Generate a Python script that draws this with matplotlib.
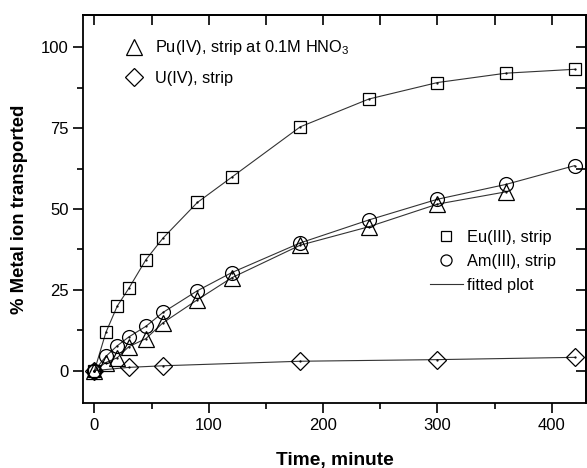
import matplotlib
matplotlib.use("Agg")
import matplotlib.pyplot as plt
from matplotlib.lines import Line2D
from matplotlib.ticker import MultipleLocator

plt.rcParams['font.family'] = ['Liberation Sans', 'DejaVu Sans']
plt.rcParams['mathtext.fontset'] = 'custom'
plt.rcParams['mathtext.rm'] = 'Liberation Sans'
plt.rcParams['mathtext.it'] = 'Liberation Sans'

# data
eu_t = [0, 10, 20, 30, 45, 60, 90, 120, 180, 240, 300, 360, 420]
eu_y = [0, 11.8, 20, 25.4, 34.3, 41, 52, 59.8, 75.4, 84, 89.1, 92, 93.2]

am_t = [0, 10, 20, 30, 45, 60, 90, 120, 180, 240, 300, 360, 420]
am_y = [0, 4.4, 7.7, 10.4, 13.7, 18, 24.7, 30.3, 39.5, 46.6, 53, 57.6, 63.4]

pu_t = [0, 10, 20, 30, 45, 60, 90, 120, 180, 240, 300, 360]
pu_y = [0, 2.5, 4, 7.4, 9.9, 14.8, 21.9, 28.7, 38.8, 44.5, 51.5, 55.3]

u_t = [0, 30, 60, 180, 300, 420]
u_y = [0, 1, 1.5, 2.9, 3.4, 4.1]

fig = plt.figure(figsize=(5.87, 4.68), dpi=100)
ax = fig.add_axes([0.1414, 0.139, 0.857, 0.829])

series = [
    (pu_t, pu_y, '^', 11),
    (u_t, u_y, 'D', 9),
    (eu_t, eu_y, 's', 9),
    (am_t, am_y, 'o', 10),
]
for t, y, m, ms in series:
    ax.plot(t, y, '-', color='#333333', lw=0.8, zorder=2)
    ax.plot(t, y, m, mfc='none', mec='black', mew=0.9, ms=ms, zorder=3)
    ax.plot(t, y, '.', color='black', ms=1.2, zorder=4)

ax.set_xlim(-10, 430)
ax.set_ylim(-10, 110)
ax.xaxis.set_major_locator(MultipleLocator(100))
ax.xaxis.set_minor_locator(MultipleLocator(50))
ax.yaxis.set_major_locator(MultipleLocator(25))
ax.yaxis.set_minor_locator(MultipleLocator(12.5))
ax.set_yticks([0, 25, 50, 75, 100])
ax.tick_params(which='both', direction='out', top=False, right=False, labelsize=12, width=1.2)
ax.tick_params(which='major', length=7)
ax.tick_params(which='minor', length=4)
sec_x = ax.secondary_xaxis('top')
sec_x.xaxis.set_major_locator(MultipleLocator(50))
sec_x.tick_params(direction='in', length=7, width=1.2, labeltop=False)
sec_y = ax.secondary_yaxis('right')
sec_y.yaxis.set_major_locator(MultipleLocator(12.5))
sec_y.tick_params(direction='in', length=7, width=1.2, labelright=False)
for s in ax.spines.values():
    s.set_linewidth(1.3)
sec_x.spines['top'].set_linewidth(1.3)
sec_y.spines['right'].set_linewidth(1.3)

ax.set_xlabel('Time, minute', fontsize=13.8, fontweight='bold', labelpad=14)
ax.set_ylabel('% Metal ion transported', fontsize=13.3, fontweight='bold', labelpad=9)

h_top = [
    Line2D([], [], ls='none', marker='^', mfc='none', mec='black', ms=11, mew=0.9),
    Line2D([], [], ls='none', marker='D', mfc='none', mec='black', ms=9, mew=0.9),
]
leg1 = ax.legend(h_top, ['Pu(IV), strip at 0.1M HNO$_3$', 'U(IV), strip'],
                 loc='upper left', bbox_to_anchor=(0.052, 0.978), frameon=False,
                 fontsize=11.8, handlelength=1.2, handletextpad=0.7, labelspacing=0.85)
ax.add_artist(leg1)

h_bot = [
    Line2D([], [], ls='none', marker='s', mfc='none', mec='black', ms=7, mew=0.9),
    Line2D([], [], ls='none', marker='o', mfc='none', mec='black', ms=8, mew=0.9),
    Line2D([], [], color='#333333', lw=0.8),
]
ax.legend(h_bot, ['Eu(III), strip', 'Am(III), strip', 'fitted plot'],
          loc='upper left', bbox_to_anchor=(0.66, 0.485), frameon=False,
          fontsize=11.8, handlelength=2.0, handletextpad=0.3, labelspacing=0.55)

fig.savefig('out.png', dpi=100)
